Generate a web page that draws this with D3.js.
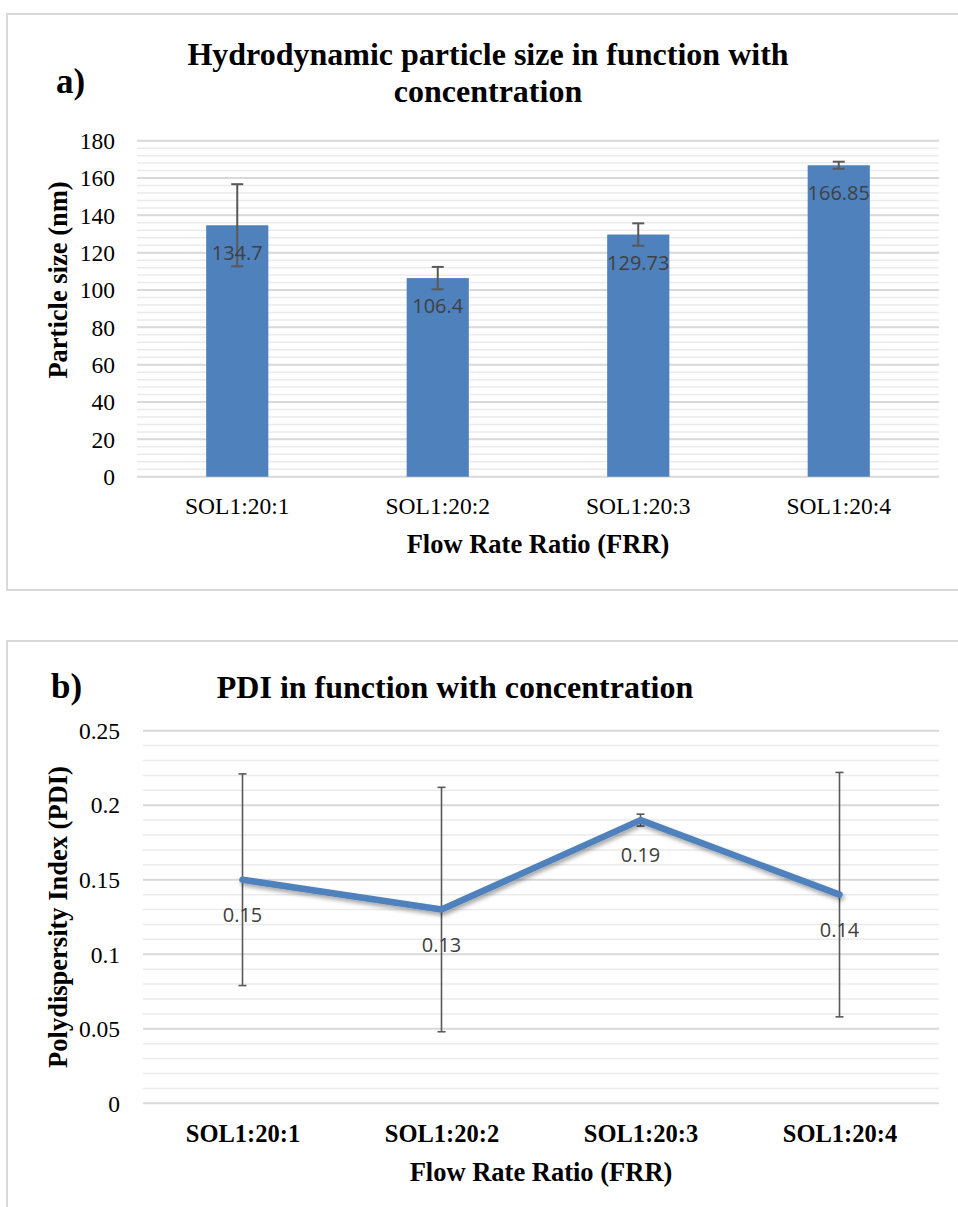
<!DOCTYPE html>
<html>
<head>
<meta charset="utf-8">
<script src="https://cdn.jsdelivr.net/npm/d3@7"></script>
<style>
  html, body { margin: 0; padding: 0; background: #fff; }
  svg { display: block; }
</style>
</head>
<body>
<svg id="chart" width="958" height="1207"></svg>
<script>
// ---------- data ----------
const categories = ["SOL1:20:1", "SOL1:20:2", "SOL1:20:3", "SOL1:20:4"];
const sizeValues = [134.7, 106.4, 129.73, 166.85];
const sizeErrors = [22, 6, 6, 1.9];
const sizeLabels = ["134.7", "106.4", "129.73", "166.85"];
const sizeTicks = [0, 20, 40, 60, 80, 100, 120, 140, 160, 180];
const sizeTickLabels = ["0", "20", "40", "60", "80", "100", "120", "140", "160", "180"];

const pdiValues = [0.15, 0.13, 0.19, 0.14];
const pdiErrors = [0.071, 0.082, 0.004, 0.082];
const pdiLabels = ["0.15", "0.13", "0.19", "0.14"];
const pdiTicks = [0, 0.05, 0.1, 0.15, 0.2, 0.25];
const pdiTickLabels = ["0", "0.05", "0.1", "0.15", "0.2", "0.25"];

const titleA = ["Hydrodynamic particle size in function with", "concentration"];
const titleB = "PDI in function with concentration";
const xTitle = "Flow Rate Ratio (FRR)";
const yTitleA = "Particle size (nm)";
const yTitleB = "Polydispersity Index (PDI)";

// ---------- styles ----------
const SERIF = "'Liberation Serif', 'Times New Roman', serif";
const SANS = "'Open Sans', 'Liberation Sans', sans-serif";
const BLUE = "#4f81bd";
const MAJOR = "#d9d9d9";
const MINOR = "#ebebeb";
const ERR = "#595959";
const LABEL = "#404040";
const TICK_FS = 23.5, AXT_FS = 26.5, TITLE_FS = 32, PANEL_FS = 35;

const svg = d3.select("#chart");

const defs = svg.append("defs");
const f = defs.append("filter").attr("id", "shadow")
  .attr("x", "-10%").attr("y", "-50%").attr("width", "120%").attr("height", "200%");
f.append("feDropShadow").attr("dx", 1.5).attr("dy", 3).attr("stdDeviation", 2)
  .attr("flood-color", "#000").attr("flood-opacity", 0.35);

// ================= Chart A =================
svg.append("rect").attr("x", 7).attr("y", 14).attr("width", 1000).attr("height", 576)
  .attr("fill", "none").attr("stroke", MAJOR).attr("stroke-width", 2);

const aLeft = 137, aRight = 939, aTop = 140.7, aBottom = 476.7;
const xA = d3.scaleBand().domain(categories).range([aLeft, aRight])
  .paddingInner(0.69).paddingOuter(0.345);
const yA = d3.scaleLinear().domain([0, 180]).range([aBottom, aTop]);

const gA = svg.append("g");
// minor gridlines
const minorA = d3.range(0, 46).filter(i => i % 5 !== 0).map(i => i * 4);
gA.append("g").selectAll("line").data(minorA).join("line")
  .attr("x1", aLeft).attr("x2", aRight)
  .attr("y1", d => yA(d)).attr("y2", d => yA(d))
  .attr("stroke", MINOR).attr("stroke-width", 1.5);
// major gridlines
gA.append("g").selectAll("line").data(sizeTicks).join("line")
  .attr("x1", aLeft).attr("x2", aRight)
  .attr("y1", d => yA(d)).attr("y2", d => yA(d))
  .attr("stroke", MAJOR).attr("stroke-width", 2);

// y axis labels
const yAxisA = d3.axisLeft(yA).tickValues(sizeTicks)
  .tickFormat((d, i) => sizeTickLabels[i]).tickSize(0).tickPadding(0);
const yAxA = gA.append("g").attr("transform", `translate(${aLeft - 22},0)`).call(yAxisA);
yAxA.select(".domain").remove();
yAxA.selectAll("text").attr("font-family", SERIF).attr("font-size", TICK_FS).attr("fill", "#000")
  .attr("dy", "0.33em");

// bars
gA.append("g").selectAll("rect").data(sizeValues).join("rect")
  .attr("x", (d, i) => xA(categories[i]))
  .attr("width", xA.bandwidth())
  .attr("y", d => yA(d))
  .attr("height", d => yA(0) - yA(d))
  .attr("fill", BLUE);

// error bars
const errA = gA.append("g").attr("stroke", ERR).attr("stroke-width", 2);
sizeValues.forEach((v, i) => {
  const cx = xA(categories[i]) + xA.bandwidth() / 2;
  const hi = yA(v + sizeErrors[i]), lo = yA(v - sizeErrors[i]);
  errA.append("line").attr("x1", cx).attr("x2", cx).attr("y1", hi).attr("y2", lo);
  errA.append("line").attr("x1", cx - 6).attr("x2", cx + 6).attr("y1", hi).attr("y2", hi);
  errA.append("line").attr("x1", cx - 6).attr("x2", cx + 6).attr("y1", lo).attr("y2", lo);
});

// data labels
gA.append("g").selectAll("text").data(sizeValues).join("text")
  .attr("x", (d, i) => xA(categories[i]) + xA.bandwidth() / 2)
  .attr("y", d => yA(d) + 35)
  .attr("text-anchor", "middle")
  .attr("font-family", SANS).attr("font-size", 20).attr("fill", LABEL)
  .text((d, i) => sizeLabels[i]);

// x axis labels
const xAxisA = d3.axisBottom(xA).tickSize(0).tickPadding(0);
const xAxA = gA.append("g").attr("transform", `translate(0,${aBottom})`).call(xAxisA);
xAxA.select(".domain").remove();
xAxA.selectAll("text").attr("font-family", SERIF).attr("font-size", TICK_FS).attr("fill", "#000")
  .attr("dy", 0).attr("y", 514 - aBottom);

// titles
const tA = gA.append("text").attr("text-anchor", "middle")
  .attr("font-family", SERIF).attr("font-weight", "bold").attr("font-size", TITLE_FS).attr("fill", "#000");
tA.append("tspan").attr("x", 488).attr("y", 65).text(titleA[0]);
tA.append("tspan").attr("x", 488).attr("y", 102).text(titleA[1]);
gA.append("text").attr("x", 56).attr("y", 93)
  .attr("font-family", SERIF).attr("font-weight", "bold").attr("font-size", PANEL_FS).text("a)");

gA.append("text").attr("x", (aLeft + aRight) / 2).attr("y", 553).attr("text-anchor", "middle")
  .attr("font-family", SERIF).attr("font-weight", "bold").attr("font-size", AXT_FS).text(xTitle);
gA.append("text").attr("transform", `translate(67,${280}) rotate(-90)`)
  .attr("text-anchor", "middle")
  .attr("font-family", SERIF).attr("font-weight", "bold").attr("font-size", AXT_FS).text(yTitleA);

// ================= Chart B =================
svg.append("rect").attr("x", 7).attr("y", 641).attr("width", 1000).attr("height", 700)
  .attr("fill", "none").attr("stroke", MAJOR).attr("stroke-width", 2);

const bLeft = 143, bRight = 939, bTop = 730.7, bBottom = 1103.3;
const xB = d3.scalePoint().domain(categories).range([bLeft, bRight]).padding(0.5);
const yB = d3.scaleLinear().domain([0, 0.25]).range([bBottom, bTop]);

const gB = svg.append("g");
const minorB = d3.range(0, 26).filter(i => i % 5 !== 0).map(i => i / 100);
gB.append("g").selectAll("line").data(minorB).join("line")
  .attr("x1", bLeft).attr("x2", bRight)
  .attr("y1", d => yB(d)).attr("y2", d => yB(d))
  .attr("stroke", MINOR).attr("stroke-width", 1.5);
gB.append("g").selectAll("line").data(pdiTicks).join("line")
  .attr("x1", bLeft).attr("x2", bRight)
  .attr("y1", d => yB(d)).attr("y2", d => yB(d))
  .attr("stroke", MAJOR).attr("stroke-width", 2);

const yAxisB = d3.axisLeft(yB).tickValues(pdiTicks)
  .tickFormat((d, i) => pdiTickLabels[i]).tickSize(0).tickPadding(0);
const yAxB = gB.append("g").attr("transform", `translate(${bLeft - 23},0)`).call(yAxisB);
yAxB.select(".domain").remove();
yAxB.selectAll("text").attr("font-family", SERIF).attr("font-size", TICK_FS).attr("fill", "#000")
  .attr("dy", "0.33em");

// error bars
const errB = gB.append("g").attr("stroke", ERR).attr("stroke-width", 1.6);
pdiValues.forEach((v, i) => {
  const cx = xB(categories[i]);
  const hi = yB(v + pdiErrors[i]), lo = yB(v - pdiErrors[i]);
  errB.append("line").attr("x1", cx).attr("x2", cx).attr("y1", hi).attr("y2", lo);
  errB.append("line").attr("x1", cx - 4).attr("x2", cx + 4).attr("y1", hi).attr("y2", hi);
  errB.append("line").attr("x1", cx - 4).attr("x2", cx + 4).attr("y1", lo).attr("y2", lo);
});

// line
const line = d3.line().x((d, i) => xB(categories[i])).y(d => yB(d));
gB.append("path").datum(pdiValues).attr("d", line)
  .attr("fill", "none").attr("stroke", BLUE).attr("stroke-width", 6.5)
  .attr("stroke-linejoin", "round").attr("stroke-linecap", "round")
  .attr("filter", "url(#shadow)");

// data labels
gB.append("g").selectAll("text").data(pdiValues).join("text")
  .attr("x", (d, i) => xB(categories[i]))
  .attr("y", d => yB(d) + 42)
  .attr("text-anchor", "middle")
  .attr("font-family", SANS).attr("font-size", 20).attr("fill", LABEL)
  .text((d, i) => pdiLabels[i]);

// x labels
const xAxisB = d3.axisBottom(xB).tickSize(0).tickPadding(0);
const xAxB = gB.append("g").attr("transform", `translate(0,${bBottom})`).call(xAxisB);
xAxB.select(".domain").remove();
xAxB.selectAll("text").attr("font-family", SERIF).attr("font-weight", "bold")
  .attr("font-size", 24.5).attr("fill", "#000").attr("dy", 0).attr("y", 1142 - bBottom);

gB.append("text").attr("x", 455).attr("y", 698).attr("text-anchor", "middle")
  .attr("font-family", SERIF).attr("font-weight", "bold").attr("font-size", TITLE_FS).text(titleB);
gB.append("text").attr("x", 51).attr("y", 698)
  .attr("font-family", SERIF).attr("font-weight", "bold").attr("font-size", PANEL_FS).text("b)");

gB.append("text").attr("x", (bLeft + bRight) / 2).attr("y", 1181).attr("text-anchor", "middle")
  .attr("font-family", SERIF).attr("font-weight", "bold").attr("font-size", AXT_FS).text(xTitle);
gB.append("text").attr("transform", `translate(67,${917}) rotate(-90)`)
  .attr("text-anchor", "middle")
  .attr("font-family", SERIF).attr("font-weight", "bold").attr("font-size", AXT_FS).text(yTitleB);
</script>
</body>
</html>
